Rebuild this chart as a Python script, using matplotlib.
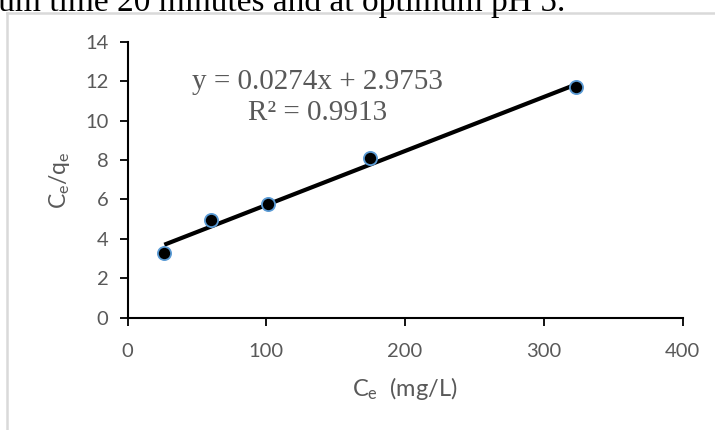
import matplotlib
matplotlib.use("Agg")
import matplotlib.pyplot as plt
from matplotlib.lines import Line2D
import numpy as np

# Data
ce = [26.4, 60.1, 100.9, 174.7, 323.2]
ce_qe = [3.29, 4.95, 5.75, 8.09, 11.72]
slope = 0.0274
intercept = 2.9753
r2 = 0.9913
x_ticks = [0, 100, 200, 300, 400]
y_ticks = [0, 2, 4, 6, 8, 10, 12, 14]

plt.rcParams['font.family'] = ['Lato', 'DejaVu Sans']
plt.rcParams['mathtext.fontset'] = 'custom'
plt.rcParams['mathtext.rm'] = 'Lato'

fig = plt.figure(figsize=(7.15, 4.30), dpi=100)
ax = fig.add_axes([127.7/715, 1-317.6/430, (682.5-127.7)/715, (317.6-41.7)/430])

gray = '#595959'

# trend line
xl = np.array([min(ce), max(ce)])
ax.plot(xl, slope*xl + intercept, color='black', lw=3, solid_capstyle='butt', zorder=2)
ax.scatter(ce, ce_qe, s=90, c='black', edgecolors='#5B9BD5', linewidths=1.3, zorder=3)

ax.set_xlim(0, 400)
ax.set_ylim(0, 14)
ax.set_xticks(x_ticks)
ax.set_yticks(y_ticks)
for s in ['top', 'right']:
    ax.spines[s].set_visible(False)
for s in ['left', 'bottom']:
    ax.spines[s].set_linewidth(1.5)
    ax.spines[s].set_color('black')
ax.tick_params(direction='out', length=6, width=1.3, color='black',
               labelcolor=gray, labelsize=14.5)
ax.tick_params(axis='x', pad=12)
ax.tick_params(axis='y', pad=8)
ax.set_xlabel(r'$\mathregular{C_e}$  (mg/L)', fontsize=17, color=gray, labelpad=11)
ax.set_ylabel(r'$\mathregular{C_e/q_e}$', fontsize=16.5, color=gray, labelpad=9)

ax.text(0.342, 0.855, f'y = {slope}x + {intercept}', transform=ax.transAxes,
        ha='center', va='center', family=['Liberation Serif'], fontsize=21, color=gray)
ax.text(0.342, 0.74, f'R² = {r2}', transform=ax.transAxes,
        ha='center', va='center', family=['Liberation Serif'], fontsize=21, color=gray)

# frame lines
fig.add_artist(Line2D([7.3/715, 7.3/715], [0, 1-13.3/430], transform=fig.transFigure,
                      color='#D9D9D9', lw=1.8))
fig.add_artist(Line2D([7.3/715, 1], [1-13.3/430, 1-13.3/430], transform=fig.transFigure,
                      color='#D9D9D9', lw=1.8))

# cut-off document text
fig.text(565/715, 1-11/430, 'minimum time 20 minutes and at optimum pH 5.',
         ha='right', va='baseline', family=['Liberation Serif'], fontsize=24, color='black')

fig.savefig('out.png', dpi=100)
